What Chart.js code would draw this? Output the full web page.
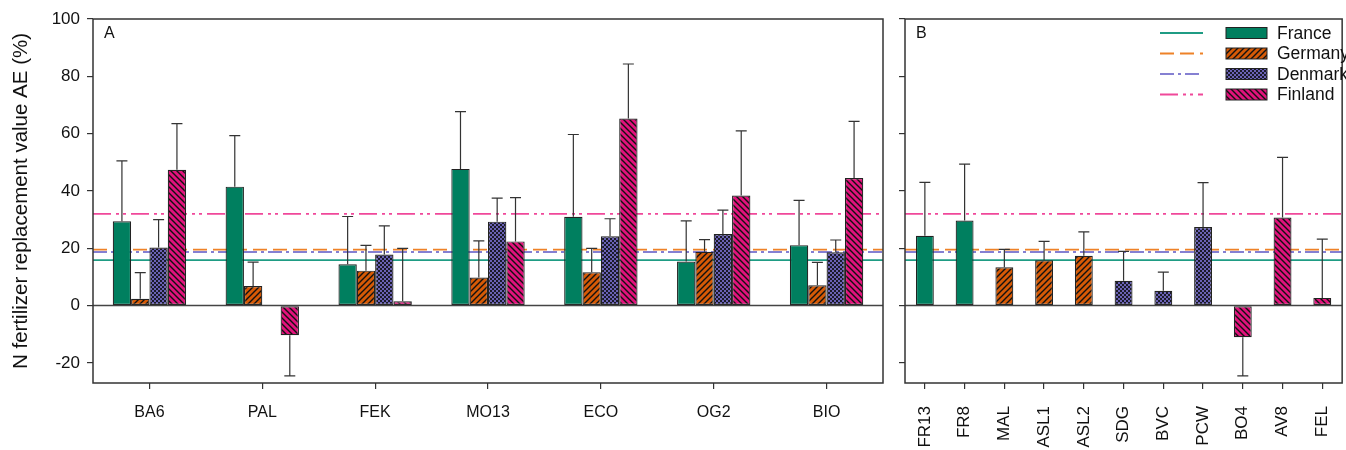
<!DOCTYPE html>
<html>
<head>
<meta charset="utf-8">
<script src="https://cdn.jsdelivr.net/npm/chart.js@4.4.1/dist/chart.umd.min.js"></script>
<style>
  html, body { margin: 0; padding: 0; background: #fff; overflow: hidden; }
  #wrap { position: relative; width: 1346px; height: 450px; overflow: hidden; }
  #boxA { position: absolute; left: 0; top: 0; width: 890px; height: 450px; }
  #boxB { position: absolute; left: 890px; top: 0; width: 470px; height: 450px; }
</style>
</head>
<body>
<div id="wrap">
  <div id="boxA"><canvas id="chartA"></canvas></div>
  <div id="boxB"><canvas id="chartB"></canvas></div>
</div>
<script>
// panel A: country means per product, with upper error bar ends
const countries = ["France", "Germany", "Denmark", "Finland"];
const labelsA = ["BA6", "PAL", "FEK", "MO13", "ECO", "OG2", "BIO"];
const franceA = [29.4, 41.5, 14.4, 47.7, 31.0, 15.4, 21.1];
const germanyA = [2.4, 6.8, 12.2, 9.8, 11.6, 18.8, 7.1];
const denmarkA = [20.3, null, 17.8, 29.3, 24.2, 25.0, 18.6];
const finlandA = [47.4, -10.3, 1.5, 22.4, 65.3, 38.4, 44.5];
const franceErrA = [50.5, 59.3, 31.1, 67.7, 59.7, 29.6, 36.7];
const germanyErrA = [11.5, 15.2, 21.0, 22.6, 20.0, 23.0, 15.1];
const denmarkErrA = [30.0, null, 27.8, 37.5, 30.3, 33.3, 22.9];
const finlandErrA = [63.5, -24.5, 20.0, 37.7, 84.3, 61.0, 64.3];

// panel B: single products, each belonging to one country (index into countries)
const labelsB = ["FR13", "FR8", "MAL", "ASL1", "ASL2", "SDG", "BVC", "PCW", "BO4", "AV8", "FEL"];
const valuesB = [24.4, 29.7, 13.4, 15.8, 17.4, 8.7, 5.2, 27.4, -11.0, 30.7, 2.7];
const errorsB = [43.0, 49.4, 19.6, 22.4, 25.7, 18.9, 11.7, 42.9, -24.5, 51.7, 23.2];
const countryB = [0, 0, 1, 1, 1, 2, 2, 2, 3, 3, 3];

// country average lines
const countryMeans = [15.9, 19.5, 18.7, 32.0];
const yTicks = [-20, 0, 20, 40, 60, 80, 100];

const FONT = "'Liberation Sans', Arial, sans-serif";
const fills = ["#007f5f", "#d65a06", "#6a62b4", "#e2127c"];
const lineColors = ["#1f9c84", "#ee8228", "#8580d2", "#f0489a"];
const lineDash = [[], [14, 6], [14, 4, 3, 4], [18, 5, 3, 4, 3, 5]];

function makePattern(kind, bg) {
  const c = document.createElement("canvas");
  const s = kind === "check" ? 4 : 6;
  c.width = s; c.height = s;
  const g = c.getContext("2d");
  g.fillStyle = bg;
  g.fillRect(0, 0, s, s);
  g.strokeStyle = "#111";
  g.fillStyle = "#1a1a2a";
  g.lineWidth = 1.4;
  if (kind === "fwd") {
    g.beginPath();
    g.moveTo(0, s); g.lineTo(s, 0);
    g.moveTo(-s / 2, s / 2); g.lineTo(s / 2, -s / 2);
    g.moveTo(s / 2, s * 1.5); g.lineTo(s * 1.5, s / 2);
    g.stroke();
  } else if (kind === "back") {
    g.beginPath();
    g.moveTo(0, 0); g.lineTo(s, s);
    g.moveTo(-s / 2, s / 2); g.lineTo(s / 2, s * 1.5);
    g.moveTo(s / 2, -s / 2); g.lineTo(s * 1.5, s / 2);
    g.stroke();
  } else if (kind === "check") {
    g.fillRect(0, 0, 2, 2);
    g.fillRect(2, 2, 2, 2);
  }
  return g.createPattern(c, "repeat");
}

const ctxA = document.getElementById("chartA").getContext("2d");
const patterns = [
  fills[0],
  makePattern("fwd", fills[1]),
  makePattern("check", fills[2]),
  makePattern("back", fills[3])
];

// horizontal country mean lines, behind the bars
const meanLines = {
  id: "meanLines",
  beforeDatasetsDraw(chart) {
    const { ctx, chartArea: a, scales: { y } } = chart;
    ctx.save();
    countryMeans.forEach((m, i) => {
      const py = y.getPixelForValue(m);
      ctx.strokeStyle = lineColors[i];
      ctx.lineWidth = 1.8;
      ctx.setLineDash(lineDash[i]);
      ctx.beginPath();
      ctx.moveTo(a.left, py);
      ctx.lineTo(a.right, py);
      ctx.stroke();
    });
    ctx.restore();
  }
};

// frame, zero line, error bars and panel letter
const frame = {
  id: "frame",
  afterDatasetsDraw(chart, args, opts) {
    const { ctx, chartArea: a, scales: { y } } = chart;
    ctx.save();
    // error bars
    ctx.strokeStyle = "#333";
    ctx.lineWidth = 1.2;
    chart.data.datasets.forEach((ds, di) => {
      const meta = chart.getDatasetMeta(di);
      ds.errors.forEach((e, i) => {
        if (e === null || ds.data[i] === null) return;
        const x = meta.data[i].x;
        const y0 = y.getPixelForValue(ds.data[i]);
        const y1 = y.getPixelForValue(e);
        ctx.beginPath();
        ctx.moveTo(x, y0); ctx.lineTo(x, y1);
        ctx.moveTo(x - 5.5, y1); ctx.lineTo(x + 5.5, y1);
        ctx.stroke();
      });
    });
    // zero line
    const zy = y.getPixelForValue(0);
    ctx.strokeStyle = "#444";
    ctx.lineWidth = 1.5;
    ctx.beginPath();
    ctx.moveTo(a.left, zy); ctx.lineTo(a.right, zy);
    ctx.stroke();
    // box
    ctx.strokeStyle = "#333";
    ctx.lineWidth = 1.5;
    ctx.strokeRect(a.left, a.top, a.right - a.left, a.bottom - a.top);
    // panel letter
    ctx.fillStyle = "#111";
    ctx.font = "16px " + FONT;
    ctx.textBaseline = "middle";
    ctx.fillText(opts.letter, a.left + 11, a.top + 15);
    ctx.restore();
  }
};

// legend with mean line sample and bar sample
const legendDraw = {
  id: "legendDraw",
  afterDraw(chart) {
    const { ctx } = chart;
    ctx.save();
    countries.forEach((name, i) => {
      const cy = 33 + i * 20.5;
      ctx.strokeStyle = lineColors[i];
      ctx.lineWidth = 1.8;
      ctx.setLineDash(lineDash[i]);
      ctx.beginPath();
      ctx.moveTo(270, cy); ctx.lineTo(313, cy);
      ctx.stroke();
      ctx.setLineDash([]);
      ctx.fillStyle = patterns[i];
      ctx.fillRect(336, cy - 5.5, 41, 11);
      ctx.strokeStyle = "#222";
      ctx.lineWidth = 1;
      ctx.strokeRect(336, cy - 5.5, 41, 11);
      ctx.fillStyle = "#111";
      ctx.font = "17.5px " + FONT;
      ctx.textBaseline = "middle";
      ctx.fillText(name, 387, cy + 1);
    });
    ctx.restore();
  }
};

function yScale(showLabels) {
  return {
    min: -27,
    max: 100,
    afterBuildTicks: s => { s.ticks = yTicks.map(v => ({ value: v })); },
    afterFit: s => { s.width = showLabels ? 93 : 15; },
    ticks: {
      color: "#111",
      font: { family: FONT, size: 17 },
      padding: 7,
      callback: v => showLabels ? v : ""
    },
    grid: { drawOnChartArea: false, tickLength: 6, color: "#333", lineWidth: 1.2 },
    border: { display: false },
    title: {
      display: showLabels,
      text: "N fertilizer replacement value AE (%)",
      color: "#111",
      font: { family: FONT, size: 20.5 },
      padding: { top: 9, bottom: 2 }
    }
  };
}

function xScale(rot, pad, size) {
  return {
    afterFit: s => { s.height = 67; },
    ticks: {
      color: "#111",
      font: { family: FONT, size: size },
      padding: pad,
      minRotation: rot,
      maxRotation: rot,
      autoSkip: false
    },
    grid: { drawOnChartArea: false, offset: false, tickLength: 6, color: "#333", lineWidth: 1.2 },
    border: { display: false }
  };
}

const seriesA = [franceA, germanyA, denmarkA, finlandA];
const errsA = [franceErrA, germanyErrA, denmarkErrA, finlandErrA];

new Chart(ctxA, {
  type: "bar",
  data: {
    labels: labelsA,
    datasets: countries.map((name, i) => ({
      label: name,
      data: seriesA[i],
      errors: errsA[i],
      backgroundColor: patterns[i],
      borderColor: "#222",
      borderWidth: 1.2,
      borderSkipped: false,
      categoryPercentage: 0.65,
      barPercentage: 1
    }))
  },
  options: {
    responsive: true,
    maintainAspectRatio: false,
    animation: false,
    layout: { padding: { top: 19, right: 7, left: 0, bottom: 0 } },
    plugins: { legend: { display: false }, tooltip: { enabled: false }, frame: { letter: "A" } },
    scales: { x: xScale(0, 14, 16), y: yScale(true) }
  },
  plugins: [meanLines, frame]
});

new Chart(document.getElementById("chartB").getContext("2d"), {
  type: "bar",
  data: {
    labels: labelsB,
    datasets: [{
      label: "products",
      data: valuesB,
      errors: errorsB,
      backgroundColor: countryB.map(c => patterns[c]),
      borderColor: "#222",
      borderWidth: 1.2,
      borderSkipped: false,
      categoryPercentage: 0.45,
      barPercentage: 1
    }]
  },
  options: {
    responsive: true,
    maintainAspectRatio: false,
    animation: false,
    layout: { padding: { top: 19, right: 7, left: 0, bottom: 0 } },
    plugins: { legend: { display: false }, tooltip: { enabled: false }, frame: { letter: "B" } },
    scales: { x: xScale(90, 17, 17), y: yScale(false) }
  },
  plugins: [meanLines, frame, legendDraw]
});
</script>
</body>
</html>
